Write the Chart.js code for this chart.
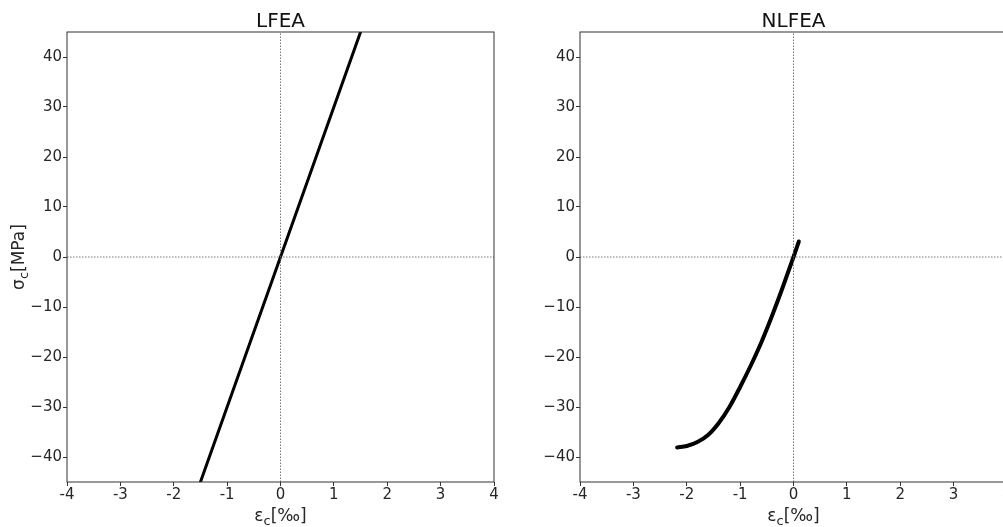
<!DOCTYPE html>
<html>
<head>
<meta charset="UTF-8">
<title>LFEA / NLFEA</title>
<script src="https://cdn.jsdelivr.net/npm/chart.js"></script>
<style>
  html, body { margin: 0; padding: 0; background: #fff; overflow: hidden; }
  body { width: 1003px; height: 527px; position: relative; }
  canvas { position: absolute; top: 0; }
  #lfea { left: 0; }
  #nlfea { left: 500px; }
</style>
</head>
<body>
<canvas id="lfea" width="500" height="527"></canvas>
<canvas id="nlfea" width="513" height="527"></canvas>
<script>
// axis ranges and ticks (same for both panels)
const xRange = [-4, 4];
const yRange = [-45, 45];
const xTicks = [-4, -3, -2, -1, 0, 1, 2, 3, 4];
const yTicks = [-40, -30, -20, -10, 0, 10, 20, 30, 40];

// linear model
const lfeaStrain = [-1.5, 0, 1.5];
const lfeaStress = [-45, 0, 45];

// nonlinear model
const nlfeaStrain = [-2.18, -2.0, -1.8, -1.6, -1.4, -1.2, -1.0, -0.8, -0.6, -0.4, -0.2, 0, 0.1];
const nlfeaStress = [-38.1, -37.8, -37.0, -35.6, -33.2, -30.0, -26.0, -21.7, -17.0, -11.7, -6.0, 0, 3.1];

const FONT = '"DejaVu Sans", sans-serif';
const INK = '#262626';

Chart.defaults.font.family = FONT;
Chart.defaults.color = INK;

function pts(xs, ys) {
  return xs.map((x, i) => ({ x: x, y: ys[i] }));
}

// text with a lowered "c", e.g. εc[‰]
function subText(ctx, x, y, main, sub, rest, size) {
  const big = size + 'px ' + FONT;
  const small = Math.round(size * 0.78) + 'px ' + FONT;
  ctx.font = big;
  const w1 = ctx.measureText(main).width;
  const w3 = ctx.measureText(rest).width;
  ctx.font = small;
  const w2 = ctx.measureText(sub).width;
  let cx = x - (w1 + w2 + w3) / 2;
  ctx.textAlign = 'left';
  ctx.textBaseline = 'alphabetic';
  ctx.font = big;
  ctx.fillText(main, cx, y);
  cx += w1;
  ctx.font = small;
  ctx.fillText(sub, cx, y + size * 0.22);
  cx += w2;
  ctx.font = big;
  ctx.fillText(rest, cx, y);
}

const decor = {
  id: 'decor',
  afterDraw(chart, args, opts) {
    const ctx = chart.ctx;
    const a = chart.chartArea;
    const mid = (a.left + a.right) / 2;
    ctx.save();
    // frame (all four spines)
    ctx.strokeStyle = '#333';
    ctx.lineWidth = 1;
    ctx.strokeRect(a.left, a.top, a.right - a.left, a.bottom - a.top);
    ctx.fillStyle = '#111';
    // title
    ctx.font = '20px ' + FONT;
    ctx.textAlign = 'center';
    ctx.textBaseline = 'alphabetic';
    ctx.fillText(opts.title, mid, 27);
    // x label
    ctx.fillStyle = INK;
    subText(ctx, mid, 521, '\u03b5', 'c', '[\u2030]', 17);
    // y label, left panel only
    if (opts.yLabel) {
      ctx.translate(24, (a.top + a.bottom) / 2);
      ctx.rotate(-Math.PI / 2);
      subText(ctx, 0, 0, '\u03c3', 'c', '[MPa]', 17);
    }
    ctx.restore();
  }
};

function makeChart(id, title, yLabel, xs, ys, width) {
  return new Chart(document.getElementById(id), {
    type: 'scatter',
    data: {
      datasets: [
        {
          data: pts([0, 0], yRange),
          showLine: true, pointRadius: 0,
          borderColor: '#555', borderWidth: 0.8, borderDash: [1.5, 1.5]
        },
        {
          data: pts(xRange, [0, 0]),
          showLine: true, pointRadius: 0,
          borderColor: '#555', borderWidth: 0.8, borderDash: [1.5, 1.5]
        },
        {
          data: pts(xs, ys),
          showLine: true, pointRadius: 0,
          borderColor: '#000', borderWidth: width,
          borderCapStyle: 'round', cubicInterpolationMode: 'monotone'
        }
      ]
    },
    options: {
      responsive: false,
      animation: false,
      events: [],
      layout: { padding: { top: 32, right: 6, bottom: 0, left: 0 } },
      plugins: {
        legend: { display: false },
        tooltip: { enabled: false },
        decor: { title: title, yLabel: yLabel }
      },
      scales: {
        x: {
          type: 'linear',
          min: xRange[0], max: xRange[1],
          afterBuildTicks: s => { s.ticks = xTicks.map(v => ({ value: v })); },
          afterFit: s => { s.height = 45; s.paddingLeft = 0; s.paddingRight = 0; },
          border: { display: false },
          grid: { drawOnChartArea: false, drawTicks: true, tickLength: 4, tickColor: '#333' },
          ticks: {
            autoSkip: false, maxRotation: 0, padding: 0,
            font: { size: 15 }, color: INK,
            callback: v => String(v)
          }
        },
        y: {
          min: yRange[0], max: yRange[1],
          afterBuildTicks: s => { s.ticks = yTicks.map(v => ({ value: v })); },
          afterFit: s => { s.width = yLabel ? 67 : 80; s.paddingTop = 0; s.paddingBottom = 0; },
          border: { display: false },
          grid: { drawOnChartArea: false, drawTicks: true, tickLength: 4, tickColor: '#333' },
          ticks: {
            autoSkip: false, padding: 1,
            font: { size: 15 }, color: INK,
            callback: v => (v < 0 ? '\u2212' + Math.abs(v) : String(v))
          }
        }
      }
    },
    plugins: [decor]
  });
}

makeChart('lfea', 'LFEA', true, lfeaStrain, lfeaStress, 3);
makeChart('nlfea', 'NLFEA', false, nlfeaStrain, nlfeaStress, 4);
</script>
</body>
</html>
